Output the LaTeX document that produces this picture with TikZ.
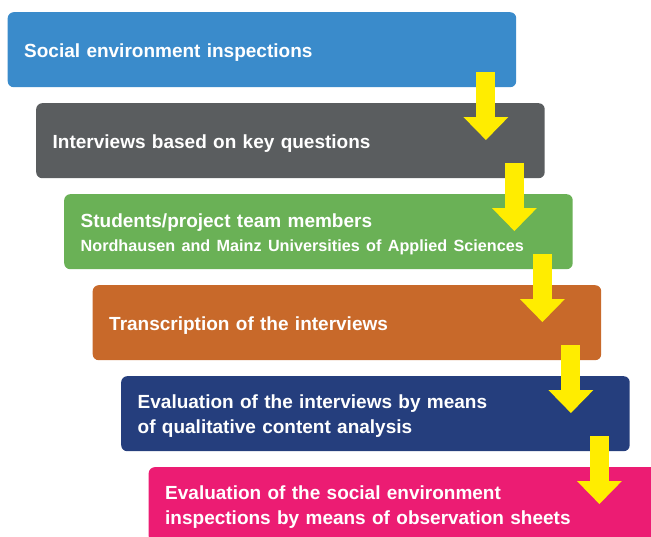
\documentclass[tikz,border=0pt]{standalone}
\usepackage{fontspec}
\setmainfont{Liberation Sans}
\usetikzlibrary{calc,arrows.meta}
\definecolor{cblue}{HTML}{3A8BCB}
\definecolor{cgray}{HTML}{5A5D5F}
\definecolor{cgreen}{HTML}{6AB156}
\definecolor{corange}{HTML}{C8692A}
\definecolor{cnavy}{HTML}{253E7D}
\definecolor{cpink}{HTML}{EC1C73}
\definecolor{cyellow}{HTML}{FFED00}
\tikzset{
  stepbox/.style={rectangle, rounded corners=6pt, anchor=north west,
    minimum width=508.5pt, minimum height=75pt, text width=475.5pt,
    inner xsep=16.5pt, inner ysep=0pt, align=left, text=white,
    font=\bfseries\fontsize{19}{24.5}\selectfont,
    execute at begin node={\rule{0pt}{19pt}}},
  yarrow/.style={draw=cyellow, line width=19pt,
    -{Triangle[width=45pt,length=23pt,line width=0pt,fill=cyellow]}},
}
\begin{document}
\begin{tikzpicture}[x=1pt,y=-1pt]
\useasboundingbox (0,0) rectangle (651,536);
\clip (0,0) rectangle (651,536);
\node[stepbox, fill=cblue]   (b1) at (7.5,12)   {Social environment inspections};
\node[stepbox, fill=cgray]   (b2) at (36,103)   {Interviews based on key questions};
\node[stepbox, fill=cgreen]  (b3) at (64,194) {Students/project team members\\{\fontsize{16.2}{24.5}\selectfont Nordhausen and Mainz Universities of Applied Sciences}};
\node[stepbox, fill=corange] (b4) at (92.5,285) {Transcription of the interviews};
\node[stepbox, fill=cnavy]   (b5) at (121,376)  {Evaluation of the interviews by means\\of qualitative content analysis};
\node[stepbox, fill=cpink, minimum width=540pt, text width=507pt] (b6) at (148.5,467) {Evaluation of the social environment\\inspections by means of observation sheets};
\foreach \a/\b in {b1/b2,b2/b3,b3/b4,b4/b5,b5/b6}{
  \coordinate (s\a) at ($(\a.south east)+(-30.5,-15)$);
  \coordinate (t\a) at ($(s\a |- \b.north)+(0,37)$);
  \draw[yarrow] (s\a) -- (t\a);
}
\end{tikzpicture}
\end{document}
